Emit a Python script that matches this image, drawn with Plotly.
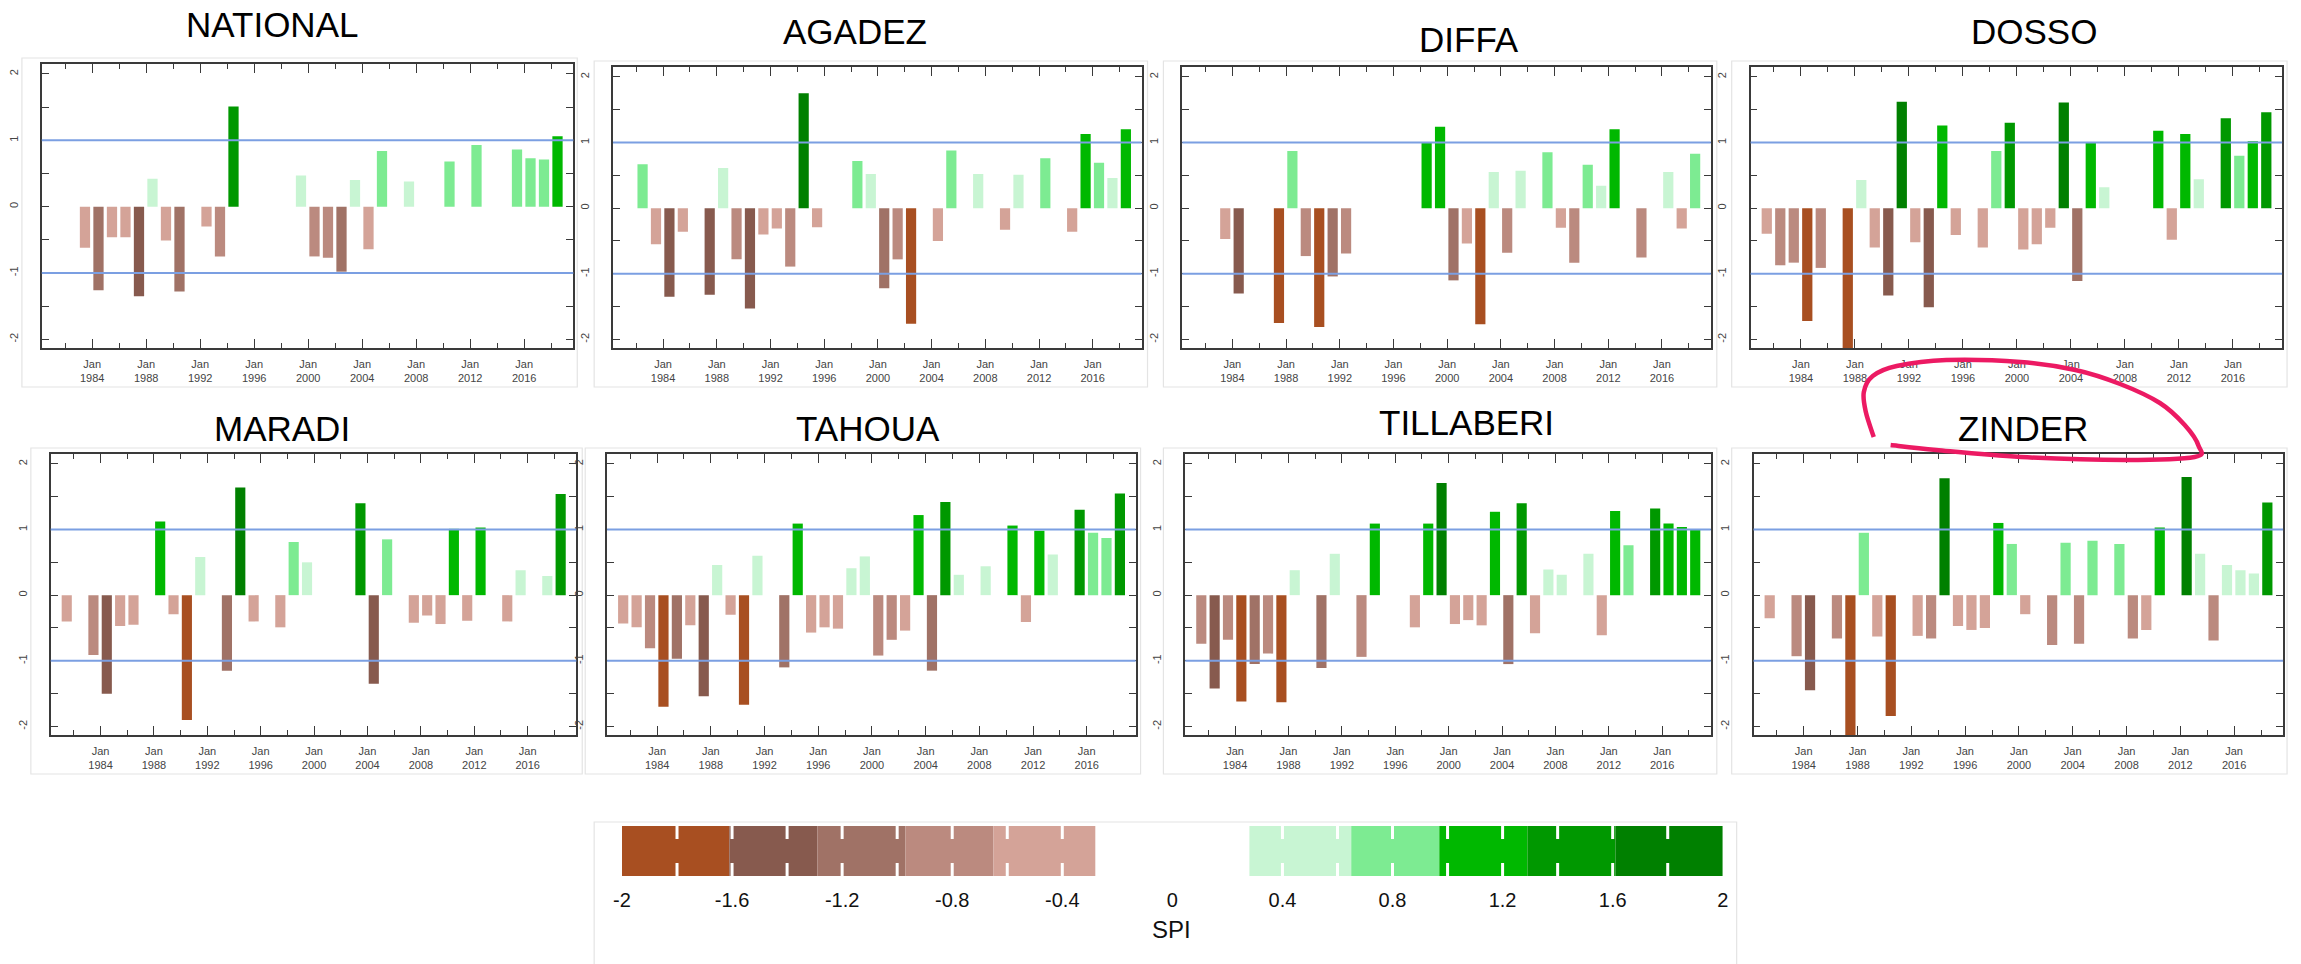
import plotly.graph_objects as go

W, H = 2301, 964
FONT = "Liberation Sans, Arial, Helvetica, sans-serif"

# ---------------- data ----------------
years = list(range(1981, 2019))
regions = ["NATIONAL", "AGADEZ", "DIFFA", "DOSSO", "MARADI", "TAHOUA", "TILLABERI", "ZINDER"]

spi_national = [0, 0, -0.62, -1.26, -0.46, -0.46, -1.35, 0.42, -0.51, -1.28,
                0, -0.30, -0.75, 1.51, 0, 0, 0, 0, 0.47, -0.75,
                -0.77, -0.98, 0.40, -0.64, 0.84, 0, 0.38, 0, 0, 0.68,
                0, 0.93, 0, 0, 0.86, 0.73, 0.71, 1.06]
spi_agadez = [0, 0.67, -0.55, -1.35, -0.36, 0, -1.32, 0.61, -0.78, -1.53,
              -0.40, -0.31, -0.89, 1.75, -0.29, 0, 0, 0.72, 0.52, -1.22,
              -0.78, -1.76, 0, -0.50, 0.88, 0, 0.52, 0, -0.33, 0.51,
              0, 0.76, 0, -0.36, 1.13, 0.69, 0.46, 1.20]
spi_diffa = [0, 0, -0.47, -1.30, 0, 0, -1.75, 0.87, -0.73, -1.81,
             -1.04, -0.69, 0, 0, 0, 0, 0, 1.00, 1.24, -1.10,
             -0.54, -1.77, 0.55, -0.68, 0.57, 0, 0.85, -0.30, -0.83, 0.66,
             0.34, 1.20, 0, -0.75, 0, 0.55, -0.31, 0.83]
spi_dosso = [-0.39, -0.87, -0.83, -1.72, -0.91, 0, -2.20, 0.43, -0.60, -1.33,
             1.62, -0.52, -1.51, 1.26, -0.41, 0, -0.60, 0.87, 1.30, -0.63,
             -0.55, -0.30, 1.61, -1.11, 1.00, 0.32, 0, 0, 0, 1.18,
             -0.48, 1.13, 0.44, 0, 1.37, 0.80, 1.02, 1.46]
spi_maradi = [-0.40, 0, -0.91, -1.50, -0.47, -0.45, 0, 1.12, -0.29, -1.90,
              0.58, 0, -1.15, 1.64, -0.40, 0, -0.49, 0.81, 0.50, 0,
              0, 0, 1.40, -1.35, 0.85, 0, -0.42, -0.31, -0.44, 1.01,
              -0.39, 1.03, 0, -0.40, 0.38, 0, 0.29, 1.54]
spi_tahoua = [-0.43, -0.49, -0.81, -1.70, -0.97, -0.46, -1.54, 0.46, -0.30, -1.67,
              0.60, 0, -1.10, 1.09, -0.57, -0.49, -0.51, 0.41, 0.59, -0.92,
              -0.68, -0.54, 1.22, -1.15, 1.42, 0.31, 0, 0.44, 0, 1.06,
              -0.41, 0.98, 0.62, 0, 1.30, 0.95, 0.87, 1.55]
spi_tillaberi = [-0.74, -1.42, -0.68, -1.62, -1.05, -0.89, -1.63, 0.38, 0, -1.11,
                 0.63, 0, -0.94, 1.09, 0, 0, -0.49, 1.09, 1.71, -0.44,
                 -0.38, -0.46, 1.27, -1.05, 1.40, -0.58, 0.39, 0.31, 0, 0.63,
                 -0.61, 1.28, 0.76, 0, 1.32, 1.09, 1.04, 1.00]
spi_zinder = [-0.35, 0, -0.93, -1.45, 0, -0.66, -2.20, 0.95, -0.63, -1.84,
              0, -0.62, -0.66, 1.78, -0.47, -0.53, -0.50, 1.10, 0.78, -0.29,
              0, -0.76, 0.80, -0.74, 0.83, 0, 0.78, -0.66, -0.53, 1.03,
              0, 1.80, 0.63, -0.69, 0.46, 0.38, 0.33, 1.41]

series = [spi_national, spi_agadez, spi_diffa, spi_dosso,
          spi_maradi, spi_tahoua, spi_tillaberi, spi_zinder]

# class breaks and colours of the SPI scale
neg_edges = [-2, -1.61, -1.29, -0.97, -0.65, -0.28]
pos_edges = [0.28, 0.65, 0.97, 1.29, 1.61, 2]
neg_colors = ["#a84f21", "#875a4e", "#a07266", "#bb8a7f", "#d4a398"]
pos_colors = ["#c8f5d3", "#7deb92", "#00b800", "#009800", "#008000"]
cbar_tickvals = [-2, -1.6, -1.2, -0.8, -0.4, 0, 0.4, 0.8, 1.2, 1.6, 2]
cbar_ticktext = ["-2", "-1.6", "-1.2", "-0.8", "-0.4", "0", "0.4", "0.8", "1.2", "1.6", "2"]
cbar_notches = [-1.8, -1.6, -1.4, -1.2, -1.0, -0.8, -0.6, -0.4,
                0.4, 0.6, 0.8, 1.0, 1.2, 1.4, 1.6, 1.8]

labelled_years = list(range(1984, 2017, 4))
minor_years = list(range(1982, 2019, 4))
y_tickvals = [-2, -1.5, -1, -0.5, 0, 0.5, 1, 1.5, 2]
y_ticktext = ["-2", "", "-1", "", "0", "", "1", "", "2"]


def spi_color(v):
    if v <= neg_edges[-1]:
        for k, upper in enumerate(neg_edges[1:]):
            if v <= upper:
                return neg_colors[k]
    if v >= pos_edges[0]:
        for k in range(5):
            if k == 4 or v < pos_edges[k + 1]:
                return pos_colors[k]
    return "#ffffff"


# ---------------- layout geometry (pixels) ----------------
plot_boxes = [  # left, right, top, bottom
    (33, 568, 64, 348), (608, 1140, 67, 348), (1181, 1713, 67, 348), (1753, 2288, 67, 348),
    (42, 571, 454, 735), (602, 1134, 454, 735), (1184, 1713, 454, 735), (1756, 2289, 454, 735),
]
title_pos = [(265, 24), (852, 32), (1470, 40), (2038, 32),
             (275, 428), (865, 428), (1467, 422), (2027, 428)]
frames = [(13, 572, 58, 387), (589, 1146, 61, 387), (1162, 1719, 61, 387), (1734, 2293, 61, 387),
          (22, 577, 448, 774), (580, 1139, 448, 774), (1162, 1719, 448, 774), (1734, 2293, 448, 774),
          (589, 1739, 822, 966)]
CB_L, CB_R, CB_T, CB_B = 617, 1725, 826, 876   # colour-scale strip

fig = go.Figure()
layout = dict(width=W, height=H, margin=dict(l=0, r=0, t=0, b=0),
              paper_bgcolor="white", plot_bgcolor="rgba(0,0,0,0)", showlegend=False,
              font=dict(family=FONT, color="#333"), shapes=[], annotations=[])

AX = "#3a3a3a"
for i, (name, vals) in enumerate(zip(regions, series), start=1):
    xid = "x" if i == 1 else f"x{i}"
    yid = "y" if i == 1 else f"y{i}"
    l, r, t, b = plot_boxes[i - 1]
    fig.add_trace(go.Bar(
        x=[y + 0.47 for y in years], y=vals, width=0.76,
        marker=dict(color=[spi_color(v) for v in vals], line=dict(width=0)),
        xaxis=xid, yaxis=yid, name=name, hoverinfo="y"))
    layout["xaxis" if i == 1 else f"xaxis{i}"] = dict(
        domain=[l / W, r / W], anchor=yid, range=[1980.27, 2019.64],
        tickmode="array", tickvals=labelled_years,
        ticktext=[f"Jan<br>{y}" for y in labelled_years],
        ticks="inside", ticklen=9, tickwidth=1.3, tickcolor=AX,
        minor=dict(tickmode="array", tickvals=minor_years, ticks="inside",
                   ticklen=5, tickwidth=1.3, tickcolor=AX),
        showline=True, linecolor=AX, linewidth=1.6, mirror="ticks",
        showgrid=False, zeroline=False, ticklabelstandoff=5,
        tickfont=dict(size=11, color="#444", family=FONT), fixedrange=True)
    layout["yaxis" if i == 1 else f"yaxis{i}"] = dict(
        domain=[1 - b / H, 1 - t / H], anchor=xid, range=[-2.13, 2.15],
        tickmode="array", tickvals=y_tickvals, ticktext=y_ticktext,
        tickangle=-90, ticks="inside", ticklen=7, tickwidth=1.3, tickcolor=AX,
        showline=True, linecolor=AX, linewidth=1.6, mirror="ticks",
        showgrid=False, zeroline=False, ticklabelstandoff=18,
        tickfont=dict(size=11, color="#444", family=FONT), fixedrange=True)
    for lvl in (1, -1):
        layout["shapes"].append(dict(
            type="line", xref=f"{xid} domain", x0=0, x1=1, yref=yid, y0=lvl, y1=lvl,
            line=dict(color="#7b9fe2", width=2), layer="above"))
    tx, ty = title_pos[i - 1]
    layout["annotations"].append(dict(
        text=name, x=tx / W, y=1 - ty / H, xref="paper", yref="paper",
        xanchor="center", yanchor="middle", showarrow=False,
        font=dict(size=35, color="#000", family=FONT)))

for (l, r, t, b) in frames:
    layout["shapes"].append(dict(
        type="rect", xref="paper", yref="paper", x0=l / W, x1=r / W,
        y0=1 - b / H, y1=1 - t / H, line=dict(color="#e4e4e4", width=1.2), layer="below"))

# ---------------- SPI colour scale ----------------
seg_lo = neg_edges[:-1] + pos_edges[:-1]
seg_hi = neg_edges[1:] + pos_edges[1:]
seg_col = neg_colors + pos_colors
fig.add_trace(go.Bar(
    y=[0] * len(seg_lo), x=[h - lo for lo, h in zip(seg_lo, seg_hi)], base=seg_lo,
    orientation="h", width=1, marker=dict(color=seg_col, line=dict(width=0)),
    xaxis="x9", yaxis="y9", hoverinfo="skip"))
layout["xaxis9"] = dict(
    domain=[CB_L / W, CB_R / W], anchor="y9", range=[-2, 2],
    tickmode="array", tickvals=cbar_tickvals, ticktext=cbar_ticktext,
    ticks="", showline=False, showgrid=False, zeroline=False, ticklabelstandoff=10,
    tickfont=dict(size=20, color="#111", family=FONT), fixedrange=True)
layout["yaxis9"] = dict(domain=[1 - CB_B / H, 1 - CB_T / H], anchor="x9", range=[-0.5, 0.5],
                        visible=False, fixedrange=True)
notch_len = 13
for v in cbar_notches:
    px = CB_L + (v + 2) / 4 * (CB_R - CB_L)
    for (ya, yb) in ((CB_T, CB_T + notch_len), (CB_B - notch_len, CB_B)):
        layout["shapes"].append(dict(
            type="line", xref="paper", yref="paper", x0=px / W, x1=px / W,
            y0=1 - ya / H, y1=1 - yb / H,
            line=dict(color="white", width=3), layer="above"))
layout["annotations"].append(dict(
    text="SPI", x=1170.5 / W, y=1 - 929 / H, xref="paper", yref="paper",
    xanchor="center", yanchor="middle", showarrow=False,
    font=dict(size=24, color="#111", family=FONT)))

# ---------------- hand-drawn highlight around ZINDER (smooth path shape) ----------------
scribble_x = [1877, 1869, 1867, 1876, 1900, 1950, 2025, 2080, 2125, 2165, 2190, 2204, 2200, 2130, 2025, 1940, 1894]
scribble_y = [437, 412, 392, 376, 366, 360, 362, 370, 384, 403, 425, 446, 457, 460, 457, 450, 445]
pts = [(x / W, 1 - y / H) for x, y in zip(scribble_x, scribble_y)]
path = f"M {pts[0][0]:.5f},{pts[0][1]:.5f}"
for k in range(len(pts) - 1):
    p0 = pts[max(k - 1, 0)]
    p1, p2 = pts[k], pts[k + 1]
    p3 = pts[min(k + 2, len(pts) - 1)]
    c1 = (p1[0] + (p2[0] - p0[0]) / 6, p1[1] + (p2[1] - p0[1]) / 6)
    c2 = (p2[0] - (p3[0] - p1[0]) / 6, p2[1] - (p3[1] - p1[1]) / 6)
    path += f" C {c1[0]:.5f},{c1[1]:.5f} {c2[0]:.5f},{c2[1]:.5f} {p2[0]:.5f},{p2[1]:.5f}"
layout["shapes"].append(dict(type="path", xref="paper", yref="paper", path=path,
                             line=dict(color="#ec1a63", width=4.5), layer="above"))

fig.update_layout(**layout)
fig.write_html("out.html", config={"displayModeBar": False},
               post_script="document.body.style.margin='0px';")
